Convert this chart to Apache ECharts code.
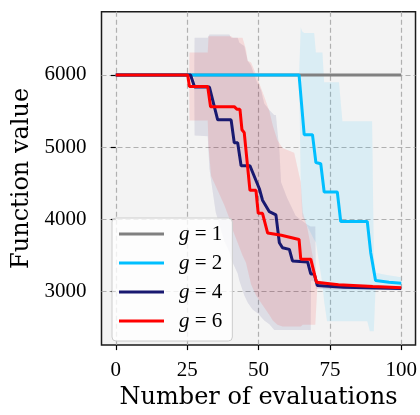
<!DOCTYPE html>
<html>
<head>
<meta charset="utf-8">
<script src="https://cdn.jsdelivr.net/npm/echarts@6/dist/echarts.min.js"></script>
<style>
html,body{margin:0;padding:0;background:#fff;}
#chart{width:420px;height:415px;}
</style>
</head>
<body>
<div id="chart"></div>
<script>
// ---- data ----
const xTicks = [0, 25, 50, 75, 100];
const yTicks = [3000, 4000, 5000, 6000];
const seriesNames = ['g=1', 'g=2', 'g=4', 'g=6'];
const seriesColors = ['#808080', '#00bfff', '#191970', '#ff0000'];

// mean curves [evaluations, value]
const lineG1 = [[0, 6000], [100, 6000]];
const lineG2 = [[0, 6000], [64.2, 6000], [66, 5173], [68.9, 5173], [70.1, 4788], [71.8, 4770], [73, 4379],
  [77.6, 4379], [78.8, 3971], [88.1, 3971], [89.3, 3539], [89.8, 3539], [91, 3153], [95.7, 3130], [100, 3115]];
const lineG4 = [[0, 6000], [26.2, 6000], [27.6, 5832], [32.8, 5832], [35.7, 5378], [40.4, 5378], [41.5, 5060],
  [42.7, 5060], [43.9, 4743], [47, 4743], [50.3, 4424], [51.4, 4266], [53.8, 4107], [56.1, 4062], [57.3, 3677],
  [58.4, 3607], [60.8, 3585], [61.9, 3425], [67.2, 3411], [68.3, 3245], [69.5, 3245], [70.6, 3085],
  [80, 3060], [100, 3045]];
const lineG6 = [[0, 6000], [25.2, 6000], [25.8, 5840], [32.2, 5840], [33.2, 5560], [41.5, 5560], [42.5, 5523],
  [43.5, 5523], [44.2, 5241], [45, 5200], [47, 4402], [49.1, 4402], [49.9, 4084], [51.4, 4084], [53.2, 3811],
  [58, 3780], [64.2, 3722], [64.8, 3449], [68.3, 3449], [70.3, 3130], [78, 3095], [90, 3070], [100, 3055]];

// spread bands [evaluations, lower, upper]
const bandG2 = [[64.2, 6000, 6000], [64.8, 4500, 6660], [65.3, 4040, 6600], [66, 3990, 6580], [69.5, 3720, 6580],
  [70.1, 3685, 6310], [72.4, 3100, 6310], [73, 2860, 5900], [74, 2590, 5900], [78.2, 2590, 5900],
  [79.4, 2590, 5360], [88.1, 2590, 5360], [89, 2450, 5360], [89.8, 2450, 5360], [90.4, 2450, 3500],
  [91, 3040, 3260], [95, 3040, 3230], [100, 3030, 3200]];
const bandG4 = [[27.5, 6000, 6000], [27.6, 5160, 6513], [32.2, 5150, 6513], [32.8, 4700, 6558], [35, 4100, 6558],
  [38, 3700, 6558], [39.8, 3550, 6558], [40.4, 3450, 6513], [42.7, 3250, 6513], [43.3, 3150, 6445],
  [45, 2950, 6400], [46.2, 2850, 6195], [47.4, 2780, 6127], [48, 2750, 6059], [49.7, 2700, 5877],
  [50.9, 2650, 5786], [52, 2600, 5605], [53.8, 2550, 5514], [55.5, 2470, 5446], [56.1, 2470, 5446],
  [56.7, 2470, 5196], [57.3, 2470, 4969], [57.9, 2470, 4515], [60, 2470, 4300], [63, 2470, 4050],
  [67, 2470, 3930], [68.3, 2470, 3900], [68.4, 3150, 3900], [69.9, 3150, 3900], [70.1, 3040, 3130],
  [75, 3030, 3090], [100, 3020, 3070]];
const bandG6 = [[25.7, 6000, 6000], [25.8, 5370, 6309], [32.2, 5370, 6309], [32.5, 5000, 6535], [33.4, 4600, 6535],
  [38, 4200, 6535], [40.4, 3950, 6535], [41, 3850, 6513], [44.4, 3500, 6513], [45.6, 3400, 6354],
  [46.2, 3300, 6195], [47.4, 3100, 6173], [49.1, 2950, 6014], [49.9, 2900, 5922], [52, 2780, 5700],
  [53.8, 2677, 5500], [55, 2600, 5300], [56.6, 2541, 5100], [58.4, 2517, 4990], [62.5, 2517, 4924],
  [64.8, 2517, 4515], [65.5, 2540, 4100], [67, 2540, 3900], [69.9, 2540, 3300], [70.6, 3060, 3160],
  [75, 3040, 3120], [100, 3030, 3080]];

const lines = [lineG1, lineG2, lineG4, lineG6];
const bands = [null, bandG2, bandG4, bandG6];

// ---- chart ----
const chart = echarts.init(document.getElementById('chart'), null, {renderer: 'canvas'});
const tickFont = 'Liberation Serif';
const titleFont = 'DejaVu Serif';

function bandSeries(band, color) {
  return {
    type: 'custom',
    silent: true,
    z: 1,
    data: [[band[0][0], band[0][1]]],
    renderItem: function (params, api) {
      const pts = [];
      for (let i = 0; i < band.length; i++) pts.push(api.coord([band[i][0], band[i][2]]));
      for (let i = band.length - 1; i >= 0; i--) pts.push(api.coord([band[i][0], band[i][1]]));
      return {type: 'polygon', shape: {points: pts}, style: {fill: color, opacity: 0.1}};
    }
  };
}

const series = [];
bands.forEach((b, i) => { if (b) series.push(bandSeries(b, seriesColors[i])); });
lines.forEach((d, i) => {
  series.push({
    name: seriesNames[i],
    type: 'line',
    data: d,
    showSymbol: false,
    symbol: 'none',
    z: 3 + i,
    lineStyle: {color: seriesColors[i], width: 3},
    itemStyle: {color: seriesColors[i]},
    animation: false
  });
});

chart.setOption({
  animation: false,
  backgroundColor: '#ffffff',
  grid: {
    left: 101.5, right: 3.5, top: 11.7, bottom: 64,
    show: true, backgroundColor: '#f3f3f3', borderColor: '#1a1a1a', borderWidth: 1.5
  },
  xAxis: {
    type: 'value', min: -5, max: 105,
    name: 'Number of evaluations', nameLocation: 'middle', nameGap: 40,
    nameTextStyle: {fontFamily: titleFont, fontSize: 24, color: '#000'},
    axisLine: {show: false},
    axisTick: {show: true, customValues: xTicks, length: 5, lineStyle: {color: '#000', width: 1.2}},
    axisLabel: {customValues: xTicks, margin: 15, fontFamily: tickFont, fontSize: 21, color: '#000',
      formatter: v => String(v)},
    splitLine: {show: true, lineStyle: {color: '#b0b0b0', type: [5, 3], width: 1.2}}
  },
  yAxis: {
    type: 'value', min: 2260, max: 6875,
    name: 'Function value', nameLocation: 'middle', nameGap: 64,
    nameTextStyle: {fontFamily: titleFont, fontSize: 24, color: '#000'},
    axisLine: {show: false},
    axisTick: {show: true, customValues: yTicks, length: 5, lineStyle: {color: '#000', width: 1.2}},
    axisLabel: {customValues: yTicks, margin: 15, fontFamily: tickFont, fontSize: 21, color: '#000',
      padding: [4, 0, 0, 0], formatter: v => String(v)},
    splitLine: {show: true, lineStyle: {color: '#b0b0b0', type: [5, 3], width: 1.2}}
  },
  legend: {
    data: seriesNames,
    orient: 'vertical',
    left: 112, top: 218,
    itemWidth: 45, itemHeight: 3,
    itemGap: 7,
    icon: 'rect',
    backgroundColor: 'rgba(255,255,255,0.8)',
    borderColor: '#cccccc', borderWidth: 1, borderRadius: 4,
    padding: [5, 10, 9, 7],
    formatter: function (name) { return '{i|g} = ' + name.split('=')[1]; },
    textStyle: {
      fontFamily: tickFont, fontSize: 21, color: '#000', lineHeight: 22, padding: [0, 0, 0, 10],
      rich: {i: {fontFamily: tickFont, fontStyle: 'italic', fontSize: 21, color: '#000'}}
    }
  },
  series: series
});
</script>
</body>
</html>
